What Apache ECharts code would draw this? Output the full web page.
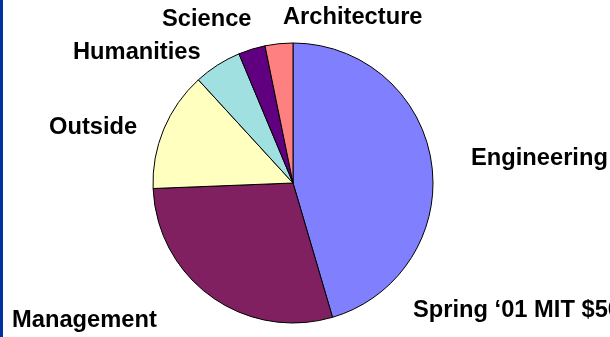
<!DOCTYPE html>
<html>
<head>
<meta charset="utf-8">
<script src="https://cdn.jsdelivr.net/npm/echarts@6/dist/echarts.min.js"></script>
<style>
  html, body { margin: 0; padding: 0; background: #ffffff; }
  #chart { width: 610px; height: 337px; border-left: 3px solid #0033A0; box-sizing: border-box; }
</style>
</head>
<body>
<div id="chart"></div>
<script>
// Share of entrants by school (percent)
const schools = ['Engineering', 'Management', 'Outside', 'Humanities', 'Science', 'Architecture'];
const shares = [45.4, 28.9, 13.8, 5.5, 3.1, 3.2];
const sliceColors = ['#8080FF', '#802060', '#FFFFC0', '#A0E0E0', '#600080', '#FF8080'];
const titleText = 'Spring \u201801 MIT $50K Entrants';

// Where each school's name sits (left edge, vertical middle) in the page
const labelSpots = {
  Engineering:  [468, 158],
  Management:   [9, 320],
  Outside:      [46, 127],
  Humanities:   [70, 52],
  Science:      [159, 19],
  Architecture: [280, 17]
};

const labelFont = { fontFamily: 'Liberation Sans', fontWeight: 'bold', fontSize: 23.7, color: '#000' };

const chart = echarts.init(document.getElementById('chart'), null, { renderer: 'canvas' });

chart.setOption({
  backgroundColor: '#ffffff',
  animation: false,
  title: {
    text: titleText,
    left: 410,
    top: 298,
    padding: 0,
    textStyle: labelFont
  },
  series: [{
    type: 'pie',
    center: [290, 183],
    radius: 140,
    startAngle: 90,
    clockwise: true,
    data: schools.map((name, i) => ({
      name: name,
      value: shares[i],
      itemStyle: { color: sliceColors[i] }
    })),
    itemStyle: { borderColor: '#000', borderWidth: 1 },
    label: Object.assign({
      show: true,
      position: 'outside',
      formatter: '{b}',
      overflow: 'none',
      width: 300
    }, labelFont),
    labelLine: { show: false },
    labelLayout: function (params) {
      const spot = labelSpots[schools[params.dataIndex]];
      return { x: spot[0], y: spot[1], align: 'left', verticalAlign: 'middle' };
    },
    emphasis: { disabled: true }
  }]
});
</script>
</body>
</html>
